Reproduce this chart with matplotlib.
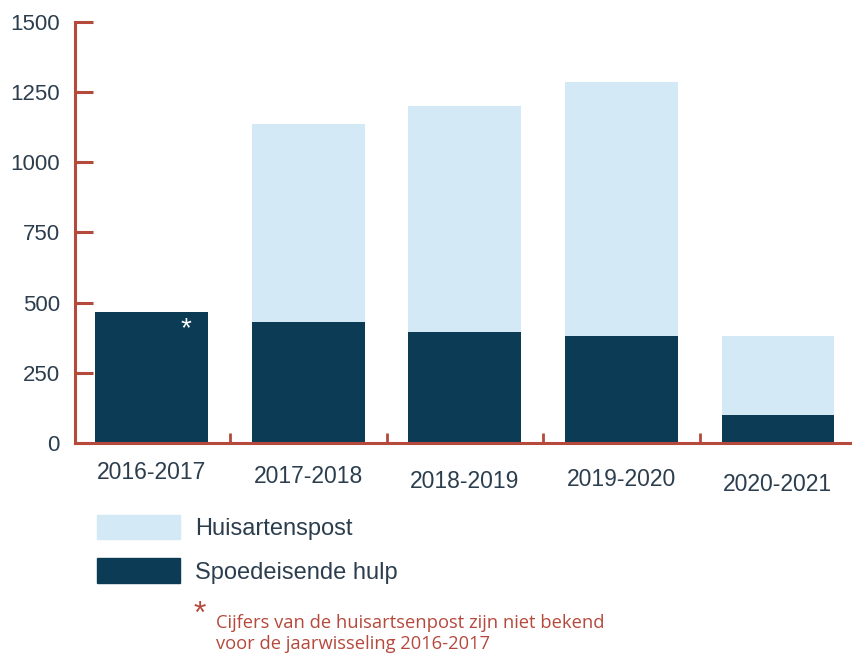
import numpy as np
import matplotlib
matplotlib.use('Agg')
from matplotlib import pyplot as plt
from matplotlib.patches import Patch

plt.rcParams['font.family'] = ['Liberation Sans', 'DejaVu Sans']

# gegevens
seizoenen = ['2016-2017', '2017-2018', '2018-2019', '2019-2020', '2020-2021']
spoedeisende_hulp = [465, 430, 395, 380, 100]
huisartsenpost = [0, 705, 805, 905, 280]   # 2016-2017 niet bekend
y_ticks = [0, 250, 500, 750, 1000, 1250, 1500]

donker = '#0c3c55'
licht = '#d3e9f6'
rood = '#b5493c'
tekst = '#2c3e4e'

fig = plt.figure(figsize=(8.53, 6.56), dpi=100)
ax = fig.add_axes([0.0879, 0.3247, 0.9121, 0.6418])

x = np.arange(len(seizoenen))
ax.bar(x, spoedeisende_hulp, width=0.72, color=donker, label='Spoedeisende hulp')
ax.bar(x, huisartsenpost, width=0.72, bottom=spoedeisende_hulp, color=licht, label='Huisartenspost')

ax.set_xlim(-0.49, 4.48)
ax.set_ylim(0, 1500)

# assen
for s in ['top', 'right']:
    ax.spines[s].set_visible(False)
for s in ['left', 'bottom']:
    ax.spines[s].set_color(rood)
    ax.spines[s].set_linewidth(2.2)

ax.set_yticks(y_ticks)
ax.tick_params(axis='y', direction='in', length=13, width=2.2, color=rood,
               labelsize=16, labelcolor=tekst, pad=11)
ax.set_xticks(x)
ax.set_xticklabels(seizoenen)
ax.set_xticks(x[:-1] + 0.5, minor=True)
ax.tick_params(axis='x', which='major', length=0, labelsize=16.5, labelcolor=tekst, pad=13)
ax.tick_params(axis='x', which='minor', direction='in', length=7, width=2, color=rood)

# labels iets verspringend zoals in het origineel
verschuiving = [0, 4, 9, 7, 12]
for lab, d in zip(ax.get_xticklabels(), verschuiving):
    lab.set_y(-d / 421)

# sterretje in de eerste balk
ax.text(0.22, 405, '*', color='white', fontsize=20, ha='center', va='center')

# legenda
handles = [Patch(color=licht), Patch(color=donker)]
fig.legend(handles, ['Huisartenspost', 'Spoedeisende hulp'], loc='upper left',
           bbox_to_anchor=(0.1137, 0.215), frameon=False, fontsize=17,
           handlelength=3.5, handleheight=1.2, handletextpad=0.65,
           labelspacing=0.78, borderpad=0, borderaxespad=0, labelcolor=tekst)

# voetnoot
fig.text(0.2345, 0.063, '*', color=rood, fontsize=23, ha='center', va='center')
fig.text(0.2532, 0.034, 'Cijfers van de huisartsenpost zijn niet bekend\nvoor de jaarwisseling 2016-2017',
         color=rood, fontsize=13.2, family=['Open Sans', 'DejaVu Sans'],
         ha='left', va='center', linespacing=1.25)

fig.savefig('out.png', dpi=100)
